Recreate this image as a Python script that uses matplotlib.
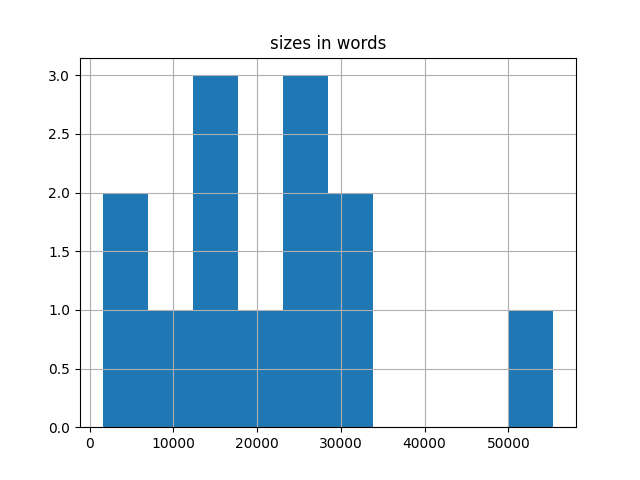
import matplotlib
matplotlib.use("Agg")
import matplotlib.pyplot as plt

# histogram counts per bin and the bin edges
bin_edges = [1555, 6938, 12321, 17704, 23087, 28470, 33853, 39236, 44619, 50002, 55385]
counts = [2, 1, 3, 1, 3, 2, 0, 0, 0, 1]

fig, ax = plt.subplots(figsize=(6.4, 4.8), dpi=100)
ax.hist(bin_edges[:-1], bins=bin_edges, weights=counts, color="#1f77b4")
ax.set_title("sizes in words")
ax.grid(True)
fig.savefig("out.png")
